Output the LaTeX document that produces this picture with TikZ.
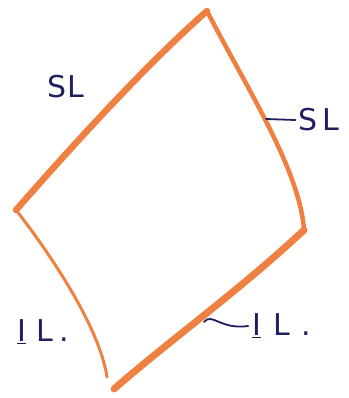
\documentclass[tikz,border=0pt]{standalone}
\usepackage{fontspec}
\setmainfont{DejaVu Sans}
\definecolor{marker}{RGB}{238,128,66}
\definecolor{ink}{RGB}{30,32,95}
\begin{document}
\begin{tikzpicture}[x=1pt,y=-1pt,
  edge/.style={draw=marker,line cap=round,line join=round},
  lab/.style={text=ink,font=\fontsize{30}{30}\selectfont,inner sep=0pt},
  leader/.style={draw=ink,line width=1.8pt,line cap=round}]
\useasboundingbox (0,0) rectangle (348,398);
\coordinate (T) at (207,11);
\coordinate (L) at (16,210);
\coordinate (R) at (304,230);
\coordinate (B1) at (107,377);
\coordinate (B2) at (114,389);
% edges
\draw[edge,line width=6.5pt] (T) .. controls (140,70) and (60,160) .. (L);
\draw[edge,line width=4.5pt] (T) .. controls (245,85) and (300,170) .. (R);
\draw[edge,line width=3pt] (L) .. controls (55,260) and (100,330) .. (B1);
\draw[edge,line width=7pt] (R) .. controls (240,290) and (170,340) .. (B2);
% labels
\node[lab] (sl1) at (66,87) {S\hspace{1pt}L};
\node[lab] (sl2) at (319,120) {S\hspace{5pt}L};
\node[lab] (il1) at (43,332) {\underline{I}\hspace{10pt}L\hspace{6pt}.};
\node[lab] (il2) at (282,326) {\underline{I}\hspace{12pt}L\hspace{12pt}.};
% leaders
\coordinate (a1) at (266,119);
\draw[leader] (a1) -- ([xshift=-3pt]sl2.west);
\coordinate (a2) at (204,322);
\draw[leader] (a2) .. controls (212,312) and (220,330) .. ([xshift=-4pt]il2.west);
\end{tikzpicture}
\end{document}
